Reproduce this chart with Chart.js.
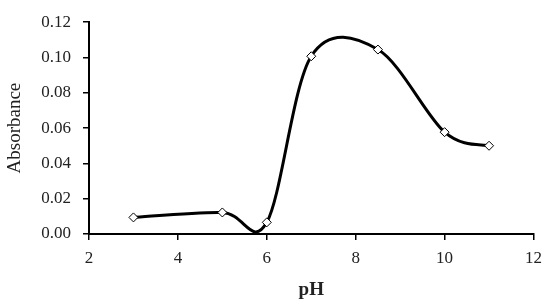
<!DOCTYPE html>
<html>
<head>
<meta charset="utf-8">
<script src="https://cdn.jsdelivr.net/npm/chart.js@4.4.0/dist/chart.umd.min.js"></script>
<style>
    body { margin: 0; background: #fff; }
    #wrap { width: 550px; height: 305px; }
</style>
</head>
<body>
<div id="wrap"><canvas id="phChart" width="550" height="305"></canvas></div>
<script>
// du lieu doc tu hinh
const phValues = [3, 5, 6, 7, 8.5, 10, 11];
const absorbance = [0.0094, 0.0122, 0.0066, 0.1007, 0.1045, 0.0577, 0.0500];
const xTicks = [2, 4, 6, 8, 10, 12];
const yTicks = [0, 0.02, 0.04, 0.06, 0.08, 0.10, 0.12];

const serif = "'Liberation Serif', 'DejaVu Serif', serif";

const points = phValues.map((x, i) => ({ x: x, y: absorbance[i] }));

// duong cong kieu Excel (Catmull-Rom, he so 1/6) thay cho spline mac dinh
const excelSmooth = {
    id: 'excelSmooth',
    beforeDatasetsDraw(chart) {
        chart.getSortedVisibleDatasetMetas().forEach(meta => {
            const pts = meta.data;
            for (let i = 0; i < pts.length; i++) {
                const p = pts[i];
                const prev = pts[i - 1] || p;
                const next = pts[i + 1] || p;
                const dx = (next.x - prev.x) / 6;
                const dy = (next.y - prev.y) / 6;
                p.cp1x = p.x - dx; p.cp1y = p.y - dy;
                p.cp2x = p.x + dx; p.cp2y = p.y + dy;
            }
            meta.dataset._pointsUpdated = true;
            meta.dataset._path = undefined;
        });
    }
};

const ctx = document.getElementById('phChart').getContext('2d');
const phChart = new Chart(ctx, {
    type: 'line',
    data: {
        datasets: [{
            label: 'Absorbance',
            data: points,
            borderColor: '#000',
            borderWidth: 3,
            tension: 0.4,
            pointStyle: 'rectRot',
            pointRadius: 4.5,
            pointBackgroundColor: '#fff',
            pointBorderColor: '#000',
            pointBorderWidth: 1,
            clip: false
        }]
    },
    options: {
        responsive: false,
        animation: false,
        layout: { padding: { top: 17, right: 15, left: 0, bottom: 0 } },
        plugins: {
            legend: { display: false },
            tooltip: { enabled: false }
        },
        scales: {
            x: {
                type: 'linear',
                min: xTicks[0],
                max: xTicks[xTicks.length - 1],
                afterBuildTicks: (scale) => { scale.ticks = xTicks.map(v => ({ value: v })); },
                afterFit: (scale) => { scale.height = 71; },
                border: { color: '#000', width: 2 },
                grid: { drawOnChartArea: false, color: '#000', lineWidth: 1.5, tickLength: 6 },
                ticks: {
                    color: '#222',
                    padding: 8,
                    font: { family: serif, size: 17 },
                    callback: (v) => v
                },
                title: {
                    display: true,
                    text: 'pH',
                    color: '#222',
                    padding: { top: 3 },
                    font: { family: serif, size: 19, weight: 'bold' }
                }
            },
            y: {
                min: 0,
                max: 0.12,
                afterBuildTicks: (scale) => { scale.ticks = yTicks.map(v => ({ value: v })); },
                afterFit: (scale) => { scale.width = 89; },
                border: { color: '#000', width: 2 },
                grid: { drawOnChartArea: false, color: '#000', lineWidth: 1.5, tickLength: 6 },
                ticks: {
                    color: '#222',
                    padding: 12,
                    font: { family: serif, size: 17 },
                    callback: (v) => v.toFixed(2)
                },
                title: {
                    display: true,
                    text: 'Absorbance',
                    color: '#222',
                    padding: { bottom: 0 },
                    font: { family: serif, size: 19 }
                }
            }
        }
    },
    plugins: [excelSmooth]
});
</script>
</body>
</html>
